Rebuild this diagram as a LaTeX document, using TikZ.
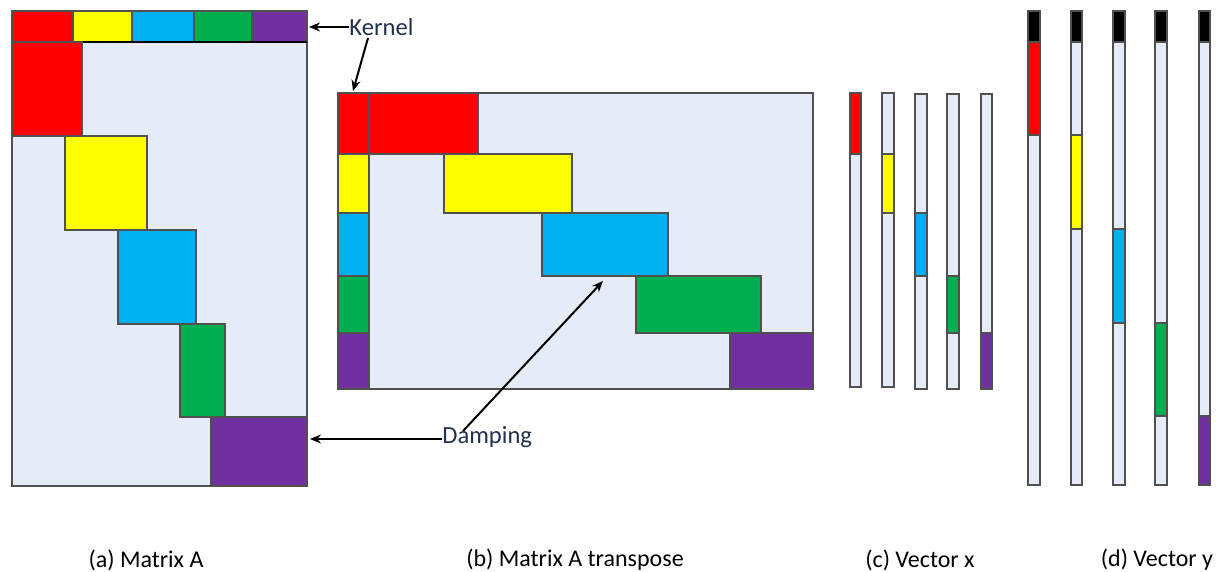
\documentclass[tikz,border=0pt]{standalone}
\usepackage{fontspec}
\setmainfont{Carlito}
\usetikzlibrary{arrows.meta}
\definecolor{cRed}{HTML}{FF0000}
\definecolor{cYel}{HTML}{FFFF00}
\definecolor{cCya}{HTML}{00B0F0}
\definecolor{cGre}{HTML}{00B050}
\definecolor{cPur}{HTML}{7030A0}
\definecolor{cBg}{HTML}{E6ECF7}
\definecolor{cEdge}{HTML}{505050}
\definecolor{cTxt}{HTML}{243050}
\tikzset{
  cell/.style={draw=cEdge, line width=0.7pt},
  lbl/.style={font=\fontsize{12.3}{14}\selectfont, text=cTxt, inner sep=0pt},
  captxt/.style={font=\fontsize{12}{14}\selectfont, text=black, inner sep=0pt},
  arr/.style={-{Stealth[length=5.5pt,width=4.5pt]}, line width=1pt, black},
}
\begin{document}
\begin{tikzpicture}[x=0.5pt,y=-0.5pt]
\useasboundingbox[fill=white] (0,0) rectangle (1217,572);
% ---------- (a) Matrix A ----------
\draw[cell, fill=cBg] (12,42) rectangle (307,486);
\draw[cell, fill=cRed] (12,11) rectangle (73,42);
\draw[cell, fill=cYel] (73,11) rectangle (132,42);
\draw[cell, fill=cCya] (132,11) rectangle (194,42);
\draw[cell, fill=cGre] (194,11) rectangle (252,42);
\draw[cell, fill=cPur] (252,11) rectangle (307,42);
\draw[cell, line width=1.1pt, black] (12,42) -- (307,42);
\draw[cell, fill=cRed] (12,42) rectangle (82,136);
\draw[cell, fill=cYel] (65,136) rectangle (147,230);
\draw[cell, fill=cCya] (118,230) rectangle (196,324);
\draw[cell, fill=cGre] (180,324) rectangle (225,417);
\draw[cell, fill=cPur] (211,417) rectangle (307,486);
% ---------- (b) Matrix A transpose ----------
\draw[cell, fill=cBg] (338,93) rectangle (813,389);
\draw[cell, fill=cRed] (338,93) rectangle (369,154);
\draw[cell, fill=cYel] (338,154) rectangle (369,213);
\draw[cell, fill=cCya] (338,213) rectangle (369,276);
\draw[cell, fill=cGre] (338,276) rectangle (369,333);
\draw[cell, fill=cPur] (338,333) rectangle (369,389);
\draw[cell, fill=cRed] (369,93) rectangle (478,154);
\draw[cell, fill=cYel] (444,154) rectangle (572,213);
\draw[cell, fill=cCya] (542,213) rectangle (668,276);
\draw[cell, fill=cGre] (636,276) rectangle (761,333);
\draw[cell, fill=cPur] (730,333) rectangle (813,389);
% ---------- (c) Vector x ----------
\draw[cell, fill=cBg] (850,93) rectangle (861,387);
\draw[cell, fill=cRed] (850,93) rectangle (861,154);
\draw[cell, fill=cBg] (882,93) rectangle (894,387);
\draw[cell, fill=cYel] (882,154) rectangle (894,213);
\draw[cell, fill=cBg] (915,94) rectangle (927,389);
\draw[cell, fill=cCya] (915,213) rectangle (927,276);
\draw[cell, fill=cBg] (947,94) rectangle (959,389);
\draw[cell, fill=cGre] (947,276) rectangle (959,333);
\draw[cell, fill=cBg] (981,94) rectangle (992,389);
\draw[cell, fill=cPur] (981,333) rectangle (992,389);
% ---------- (d) Vector y ----------
\foreach \xa/\xb in {1028/1040,1071/1082,1113/1125,1155/1167,1199/1210}{
  \draw[cell, fill=cBg] (\xa,42) rectangle (\xb,485);
  \draw[cell, fill=black] (\xa,11) rectangle (\xb,42);
}
\draw[cell, fill=cRed] (1028,42) rectangle (1040,135);
\draw[cell, fill=cYel] (1071,135) rectangle (1082,229);
\draw[cell, fill=cCya] (1113,229) rectangle (1125,323);
\draw[cell, fill=cGre] (1155,323) rectangle (1167,416);
\draw[cell, fill=cPur] (1199,416) rectangle (1210,485);
% ---------- labels and arrows ----------
\node[lbl, anchor=west] (kernel) at (349,27) {Kernel};
\coordinate (kbar) at (309,27);
\coordinate (kfrom) at (368,38);
\coordinate (kcol) at (353,91);
\draw[arr] (kernel.west) -- (kbar);
\draw[arr] (kfrom) -- (kcol);
\node[lbl, anchor=west] (damping) at (442,437) {Damping};
\coordinate (dbar) at (310,439);
\coordinate (dfrom) at (463,431);
\coordinate (dblk) at (603,281);
\draw[arr] (damping.west |- dbar) -- (dbar);
\draw[arr] (dfrom) -- (dblk);
\node[captxt] (capa) at (146,560) {(a) Matrix A};
\node[captxt] (capb) at (575,560) {(b) Matrix A transpose};
\node[captxt] (capc) at (920,560) {(c) Vector x};
\node[captxt] (capd) at (1157,560) {(d) Vector y};
\end{tikzpicture}
\end{document}
